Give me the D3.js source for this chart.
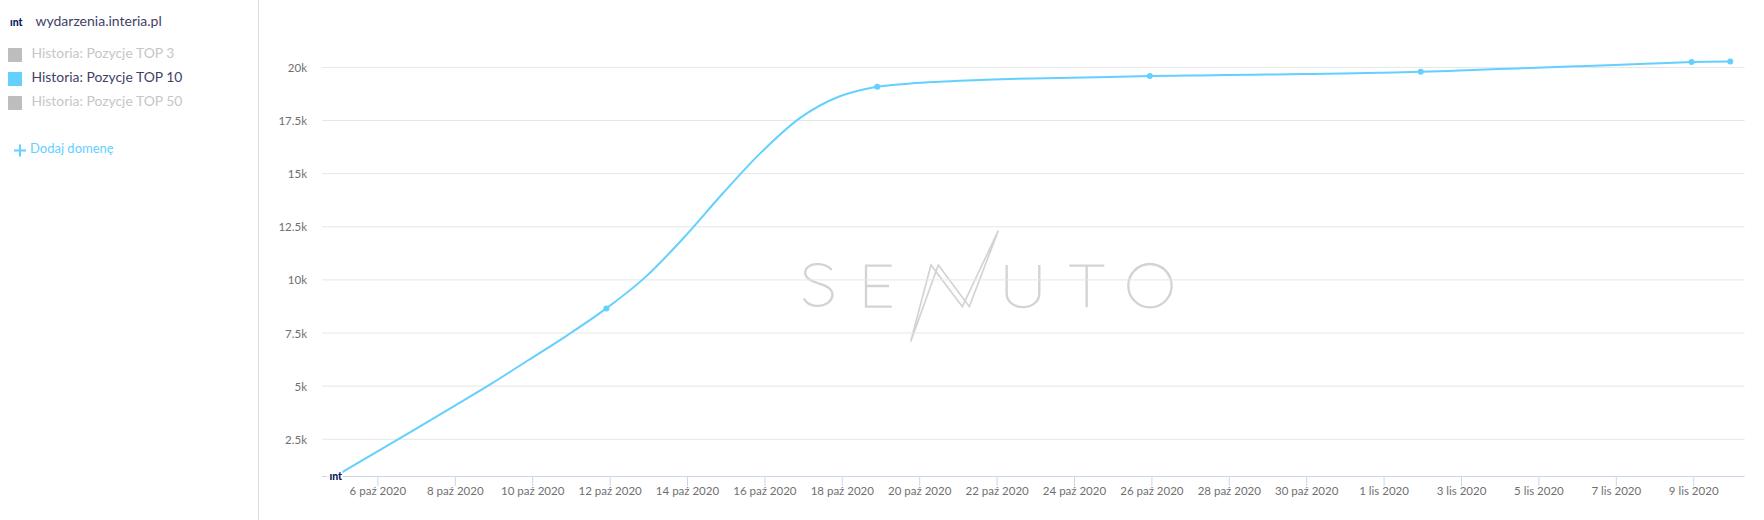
<!DOCTYPE html>
<html>
<head>
<meta charset="utf-8">
<script src="https://cdnjs.cloudflare.com/ajax/libs/d3/7.8.5/d3.min.js"></script>
<style>
	html, body { margin: 0; padding: 0; background: #fff; }
	svg { display: block; font-family: Lato, sans-serif; }
</style>
</head>
<body>
<svg id="chart" width="1764" height="520"></svg>
<script>
// daily readings, local midnight (CEST until 25 Oct, CET after) written as UTC
var historyDates = [
	"2020-10-04T22:00Z", "2020-10-05T22:00Z", "2020-10-06T22:00Z", "2020-10-07T22:00Z",
	"2020-10-08T22:00Z", "2020-10-09T22:00Z", "2020-10-10T22:00Z", "2020-10-11T22:00Z",
	"2020-10-12T22:00Z", "2020-10-13T22:00Z", "2020-10-14T22:00Z", "2020-10-15T22:00Z",
	"2020-10-16T22:00Z", "2020-10-17T22:00Z", "2020-10-18T22:00Z", "2020-10-19T22:00Z",
	"2020-10-20T22:00Z", "2020-10-21T22:00Z", "2020-10-22T22:00Z", "2020-10-23T22:00Z",
	"2020-10-24T22:00Z", "2020-10-25T23:00Z", "2020-10-26T23:00Z", "2020-10-27T23:00Z",
	"2020-10-28T23:00Z", "2020-10-29T23:00Z", "2020-10-30T23:00Z", "2020-10-31T23:00Z",
	"2020-11-01T23:00Z", "2020-11-02T23:00Z", "2020-11-03T23:00Z", "2020-11-04T23:00Z",
	"2020-11-05T23:00Z", "2020-11-06T23:00Z", "2020-11-07T23:00Z", "2020-11-08T23:00Z",
	"2020-11-09T23:00Z"
];
var top10Values = [
	770, 1838, 2911, 3993, 5081, 6243, 7405, 8660,
	10119, 11983, 14053, 16000, 17615, 18617, 19087,
	19261, 19355, 19435, 19482, 19511, 19544, 19590,
	19614, 19638, 19661, 19685, 19713, 19751, 19793,
	19854, 19920, 19986, 20052, 20113, 20183, 20249, 20282
];
// only these get a dot (first one has the domain icon instead)
var markerIndexes = [7, 14, 21, 28, 35, 36];

var yTicks = [2500, 5000, 7500, 10000, 12500, 15000, 17500, 20000];
var yTickLabels = ["2.5k", "5k", "7.5k", "10k", "12.5k", "15k", "17.5k", "20k"];

var xTickDates = [
	"2020-10-06", "2020-10-08", "2020-10-10", "2020-10-12", "2020-10-14", "2020-10-16",
	"2020-10-18", "2020-10-20", "2020-10-22", "2020-10-24", "2020-10-26", "2020-10-28",
	"2020-10-30", "2020-11-01", "2020-11-03", "2020-11-05", "2020-11-07", "2020-11-09"
];
var monthNames = {9: "paź", 10: "lis"};

var domainName = "wydarzenia.interia.pl";
var legendNames = ["Historia: Pozycje TOP 3", "Historia: Pozycje TOP 10", "Historia: Pozycje TOP 50"];
var legendActive = [false, true, false];

var blue = "#63d0ff";
var svg = d3.select("#chart");

var x = d3.scaleUtc()
	.domain([new Date("2020-10-06"), new Date("2020-11-09")])
	.range([377.4, 1693.2]);
var y = d3.scaleLinear()
	.domain([0, 20000])
	.range([492.4, 67.4]);

var plotLeft = 322, plotRight = 1744.7, plotBottom = 476;

// sidebar
svg.append("line")
	.attr("x1", 258.5).attr("x2", 258.5)
	.attr("y1", 0).attr("y2", 520)
	.attr("stroke", "#dcdcdc");

svg.append("text")
	.attr("x", 10).attr("y", 25.5)
	.attr("font-size", 10.5).attr("font-weight", 900)
	.attr("fill", "#0b1a5e")
	.text("ınt");
svg.append("text")
	.attr("x", 35.5).attr("y", 26)
	.attr("font-size", 14).attr("fill", "#3f3f68")
	.text(domainName);

var legend = svg.append("g").selectAll("g")
	.data(legendNames)
	.enter().append("g")
	.attr("transform", function(d, i) { return "translate(0," + (48 + i * 24) + ")"; });
legend.append("rect")
	.attr("x", 8).attr("width", 14).attr("height", 14)
	.attr("fill", function(d, i) { return legendActive[i] ? blue : "#bdbdbd"; });
legend.append("text")
	.attr("x", 31.5).attr("y", 9.5)
	.attr("font-size", 13.9)
	.attr("fill", function(d, i) { return legendActive[i] ? "#3f3f68" : "#c6c6c6"; })
	.text(String);

svg.append("path")
	.attr("d", "M14,150.5H26M20,144.5V156.5")
	.attr("stroke", blue).attr("stroke-width", 2).attr("fill", "none");
svg.append("text")
	.attr("x", 30).attr("y", 152.5)
	.attr("font-size", 13).attr("fill", blue)
	.text("Dodaj domenę");

// watermark, traced in 3x units
var logo = svg.append("g")
	.attr("transform", "translate(780,210) scale(0.3333)")
	.attr("fill", "none")
	.attr("stroke", "#d3d3d3");
logo.append("path")
	.attr("stroke-width", 7)
	.attr("d", "M155,180C140,160 95,155 80,175C65,200 90,212 115,220C145,228 160,240 157,258C150,295 85,298 72,265" +
		"M335,167H258V290H335M258,228H327" +
		"M680,165V250C680,305 778,305 778,250V165" +
		"M868,167H973M920,167V292");
logo.append("circle")
	.attr("cx", 1110).attr("cy", 227).attr("r", 65)
	.attr("stroke-width", 7);
logo.append("path")
	.attr("stroke-width", 5)
	.attr("d", "M392,395L453,165L547,290L655,62L568,290L475,165L392,395");

// grid + y labels
var grid = svg.append("g").selectAll("g")
	.data(yTicks)
	.enter().append("g");
grid.append("line")
	.attr("x1", plotLeft).attr("x2", plotRight)
	.attr("y1", function(d) { return y(d); })
	.attr("y2", function(d) { return y(d); })
	.attr("stroke", "#e6e6e6");
grid.append("text")
	.attr("x", 307)
	.attr("y", function(d) { return y(d) + 4.5; })
	.attr("text-anchor", "end")
	.attr("font-size", 11.5)
	.attr("fill", "#707070")
	.text(function(d, i) { return yTickLabels[i]; });

// x axis
var xAxis = d3.axisBottom(x)
	.tickValues(xTickDates.map(function(d) { return new Date(d); }))
	.tickSize(10)
	.tickPadding(1)
	.tickFormat(function(d) {
		return d.getUTCDate() + " " + monthNames[d.getUTCMonth()] + " " + d.getUTCFullYear();
	});
var xAxisG = svg.append("g")
	.attr("transform", "translate(0," + plotBottom + ")")
	.call(xAxis);
xAxisG.select(".domain")
	.attr("d", "M" + plotLeft + ",0.5H" + plotRight)
	.attr("stroke", "#ccd6eb");
xAxisG.selectAll(".tick line").attr("stroke", "#ccd6eb");
xAxisG.selectAll(".tick text")
	.attr("font-family", "Lato, sans-serif")
	.attr("font-size", 11.5)
	.attr("fill", "#707070");

// series
var points = historyDates.map(function(d, i) {
	return {date: new Date(d), value: top10Values[i]};
});
var line = d3.line()
	.x(function(d) { return x(d.date); })
	.y(function(d) { return y(d.value); })
	.curve(d3.curveCatmullRom.alpha(0.5));

svg.append("path")
	.datum(points)
	.attr("fill", "none")
	.attr("stroke", blue)
	.attr("stroke-width", 2)
	.attr("d", line);

svg.append("g").selectAll("circle")
	.data(markerIndexes.map(function(i) { return points[i]; }))
	.enter().append("circle")
	.attr("cx", function(d) { return x(d.date); })
	.attr("cy", function(d) { return y(d.value); })
	.attr("r", 3)
	.attr("fill", blue);

// domain icon on top of the first point
svg.append("rect")
	.attr("x", 327).attr("y", 466)
	.attr("width", 15.5).attr("height", 15)
	.attr("fill", "#fff");
svg.append("text")
	.attr("x", x(points[0].date) - 6).attr("y", 479.5)
	.attr("font-size", 10.5).attr("font-weight", 900)
	.attr("fill", "#0b1a5e")
	.text("ınt");
</script>
</body>
</html>
